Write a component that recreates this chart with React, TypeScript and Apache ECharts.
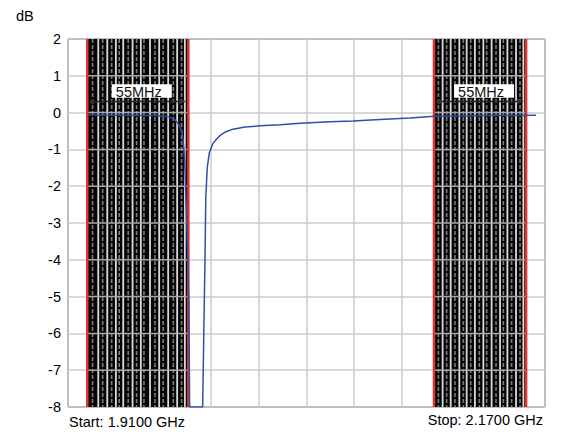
import React, { useEffect, useRef } from "react";
import * as echarts from "echarts";

// Sweep settings
const START_GHZ = 1.91;
const STOP_GHZ = 2.17;
const SPAN_MHZ = 260;
const DIV_MHZ = 26;
const Y_MIN = -8;
const Y_MAX = 2;
const Y_STEP = 1;

// Measured transmission trace (frequency in GHz, level in dB)
const traceFreqGHz = [
  1.9209, 1.9274, 1.9383, 1.9492, 1.9574, 1.9629, 1.9656, 1.9683, 1.97,
  1.972, 1.9727, 1.9735, 1.9743, 1.9751, 1.9759, 1.9763, 1.9834, 1.9843,
  1.9847, 1.9851, 1.9859, 1.987, 1.9889, 1.9907, 1.9929, 1.9961, 1.9999,
  2.0065, 2.0147, 2.0256, 2.0365, 2.0528, 2.0654, 2.0801, 2.0964, 2.1095,
  2.1237, 2.14, 2.1537, 2.1651,
];
const traceDb = [
  -0.06, -0.07, -0.07, -0.08, -0.08, -0.1, -0.13, -0.19, -0.3,
  -0.5, -0.75, -1.2, -2.3, -3.6, -5.2, -8, -8, -5.1,
  -3.9, -2.3, -1.5, -1.1, -0.85, -0.74, -0.62, -0.52, -0.45,
  -0.39, -0.36, -0.33, -0.29, -0.25, -0.23, -0.19, -0.15, -0.1,
  -0.09, -0.08, -0.08, -0.07,
];

// Marked stop bands
const bandStartGHz = [1.9205, 2.1095];
const bandStopGHz = [1.9756, 2.1597];
const bandLabels = ["55MHz", "55MHz"];
const bandArrowDb = 0.3;
const bandLabelDb = 0.58;

// Sweep traces drawn inside each band (MHz from band start)
const leftBandStripesMHz = [
  2.9, 6.0, 8.4, 10.9, 13.3, 15.6, 17.4, 19.6, 22.3, 24.7, 26.9,
  29.2, 30.9, 34.2, 36.9, 39.2, 41.4, 44.1, 46.9, 49.0, 51.4, 53.2,
];
const rightBandStripesMHz = [
  2.4, 4.7, 6.9, 9.1, 11.4, 13.8, 16.0, 17.8, 20.0, 22.3, 24.7,
  26.9, 28.7, 31.4, 33.8, 36.0, 37.8, 40.0, 42.3, 44.7, 46.9, 48.7,
];
const bandStripes = [leftBandStripesMHz, rightBandStripesMHz];

const FONT = "'Liberation Sans', Arial, sans-serif";
const FONT_SIZE = 14.5;
const toMHz = (ghz: number) => (ghz - START_GHZ) * 1000;

export default function App() {
  const ref = useRef<HTMLDivElement>(null);

  useEffect(() => {
    document.body.style.margin = "0";
    if (!ref.current) return;
    const chart = echarts.init(ref.current, undefined, { renderer: "svg" });

    const traceData = traceFreqGHz.map((f, i) => [toMHz(f), traceDb[i]]);
    const bandData = bandStartGHz.map((s, i) => [toMHz(s), toMHz(bandStopGHz[i]), i]);

    const renderBand = (params: any, api: any) => {
      const idx = params.dataIndex;
      const s = api.value(0);
      const e = api.value(1);
      const x0 = api.coord([s, Y_MAX])[0];
      const x1 = api.coord([e, Y_MAX])[0];
      const yTop = api.coord([0, Y_MAX])[1];
      const yBot = api.coord([0, Y_MIN])[1];
      const children: any[] = [];
      children.push({
        type: "rect",
        shape: { x: x0, y: yTop, width: x1 - x0, height: yBot - yTop },
        style: { fill: "#050505" },
      });
      bandStripes[idx].forEach((off, k) => {
        const x = api.coord([s + off, 0])[0];
        const bright = k % 2 === 1;
        children.push({
          type: "line",
          shape: { x1: x, y1: yTop, x2: x, y2: yBot },
          style: bright
            ? { stroke: "#dadada", lineWidth: 1.8 }
            : { stroke: "#7c7c7c", lineWidth: 1.6, lineDash: [4, 2] },
        });
      });
      for (let v = Y_MIN + Y_STEP; v < Y_MAX; v += Y_STEP) {
        const y = api.coord([0, v])[1];
        children.push({
          type: "line",
          shape: { x1: x0, y1: y, x2: x1, y2: y },
          style: { stroke: "#a8a8a8", lineWidth: 1.5 },
        });
      }
      // span arrow
      const ya = api.coord([0, bandArrowDb])[1];
      const ax0 = x0 + 5;
      const ax1 = x1 - 3;
      children.push({
        type: "line",
        shape: { x1: ax0, y1: ya, x2: ax1, y2: ya },
        style: { stroke: "#222", lineWidth: 1.5 },
      });
      children.push({
        type: "circle",
        shape: { cx: ax0, cy: ya, r: 2.5 },
        style: { fill: "#333" },
      });
      children.push({
        type: "polygon",
        shape: { points: [[ax1, ya], [ax1 - 6, ya - 3], [ax1 - 6, ya + 3]] },
        style: { fill: "#333" },
      });
      // span label
      const yl = api.coord([0, bandLabelDb])[1];
      const cx = (x0 + x1) / 2 + 1;
      children.push({
        type: "rect",
        shape: { x: cx - 27, y: yl - 7, width: 60, height: 13.5 },
        style: { fill: "#ffffff" },
      });
      children.push({
        type: "text",
        style: {
          text: bandLabels[idx],
          x: cx,
          y: yl + 1,
          fill: "#111",
          fontSize: FONT_SIZE,
          fontFamily: FONT,
          align: "center",
          verticalAlign: "middle",
        },
      });
      // band edges
      [x0, x1].forEach((x) => {
        children.push({
          type: "line",
          shape: { x1: x, y1: yTop, x2: x, y2: yBot },
          style: { stroke: "#e8302c", lineWidth: 2.5 },
        });
      });
      return { type: "group", children };
    };

    chart.setOption({
      animation: false,
      backgroundColor: "#ffffff",
      grid: {
        left: 68,
        right: 18,
        top: 39,
        bottom: 27,
        show: true,
        borderColor: "#333",
        borderWidth: 1,
        backgroundColor: "transparent",
      },
      xAxis: {
        type: "value",
        min: 0,
        max: SPAN_MHZ,
        interval: DIV_MHZ,
        axisLabel: { show: false },
        axisTick: { show: false },
        axisLine: { show: false },
        splitLine: { show: true, lineStyle: { color: "#cccccc", width: 1.5 } },
      },
      yAxis: {
        type: "value",
        min: Y_MIN,
        max: Y_MAX,
        interval: Y_STEP,
        axisLabel: { color: "#000", fontSize: FONT_SIZE, fontFamily: FONT, margin: 7 },
        axisTick: { show: false },
        axisLine: { show: false },
        splitLine: { show: true, lineStyle: { color: "#cccccc", width: 1.5 } },
      },
      series: [
        {
          type: "custom",
          data: bandData,
          renderItem: renderBand,
          z: 2,
          clip: false,
          silent: true,
        },
        {
          type: "line",
          data: traceData,
          symbol: "none",
          z: 3,
          lineStyle: { color: "#2d4fa6", width: 1.5 },
        },
      ],
      graphic: [
        {
          type: "text",
          left: 16,
          top: 8,
          style: { text: "dB", fill: "#000", fontSize: FONT_SIZE, fontFamily: FONT },
        },
        {
          type: "text",
          left: 69,
          top: 414,
          style: {
            text: `Start: ${START_GHZ.toFixed(4)} GHz`,
            fill: "#000",
            fontSize: FONT_SIZE,
            fontFamily: FONT,
          },
        },
        {
          type: "text",
          right: 20,
          top: 412,
          style: {
            text: `Stop: ${STOP_GHZ.toFixed(4)} GHz`,
            fill: "#000",
            fontSize: FONT_SIZE,
            fontFamily: FONT,
          },
        },
      ],
    });

    return () => chart.dispose();
  }, []);

  return <div ref={ref} style={{ width: 563, height: 434 }} />;
}
